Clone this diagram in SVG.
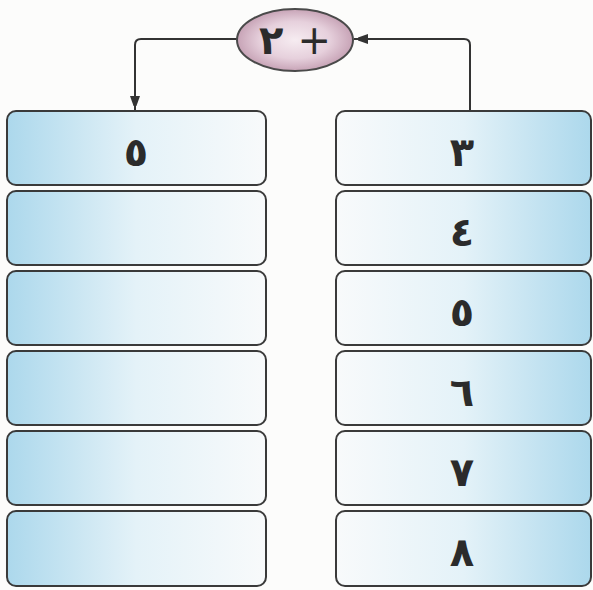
<svg xmlns="http://www.w3.org/2000/svg" width="593" height="590" viewBox="0 0 593 590">
<defs>
<linearGradient id="gL" x1="0" y1="0" x2="1" y2="0">
<stop offset="0" stop-color="#acd8ec"/>
<stop offset="0.5" stop-color="#e4f2f8"/>
<stop offset="1" stop-color="#f8fafb"/>
</linearGradient>
<linearGradient id="gR" x1="0" y1="0" x2="1" y2="0">
<stop offset="0" stop-color="#f8fafb"/>
<stop offset="0.5" stop-color="#e4f2f8"/>
<stop offset="1" stop-color="#acd8ec"/>
</linearGradient>
<radialGradient id="gE" cx="0.5" cy="0.5" r="0.5">
<stop offset="0" stop-color="#f6ecf1"/>
<stop offset="0.6" stop-color="#e6d0dc"/>
<stop offset="1" stop-color="#c7a3b6"/>
</radialGradient>
<marker id="arr" viewBox="0 0 10 14" refX="14" refY="7" markerWidth="10" markerHeight="14" markerUnits="userSpaceOnUse" orient="auto">
<path d="M0,2 L14,7 L0,12 Z" fill="#333"/>
</marker>
<style>
.box{stroke:#3a3a3a;stroke-width:2}
.l{fill:url(#gL)}
.r{fill:url(#gR)}
.num{font-family:"DejaVu Sans",sans-serif;font-weight:bold;font-size:40px;fill:#2b2b2b;text-anchor:middle}
.conn{fill:none;stroke:#333;stroke-width:2}
</style>
</defs>
<rect width="593" height="590" fill="#fcfcfb"/>
<g id="connectors">
<path class="conn" d="M237,39 H141 Q135,39 135,45 V110" marker-end="url(#arr)"/>
<path class="conn" d="M470,111 V45 Q470,39 464,39 H354" marker-end="url(#arr)"/>
</g>
<g id="op">
<ellipse cx="295" cy="40" rx="58" ry="31" fill="url(#gE)" stroke="#4a4a4a" stroke-width="2"/>
<text x="295" y="54" class="num" font-size="36">٢ <tspan font-weight="normal">+</tspan></text>
</g>
<g id="left1"><rect class="box l" x="7" y="111" width="259" height="74" rx="9"/><text class="num" x="136" y="166">٥</text></g>
<g id="left2"><rect class="box l" x="7" y="191" width="259" height="74" rx="9"/></g>
<g id="left3"><rect class="box l" x="7" y="271" width="259" height="74" rx="9"/></g>
<g id="left4"><rect class="box l" x="7" y="351" width="259" height="74" rx="9"/></g>
<g id="left5"><rect class="box l" x="7" y="431" width="259" height="74" rx="9"/></g>
<g id="left6"><rect class="box l" x="7" y="511" width="259" height="75" rx="9"/></g>
<g id="right1"><rect class="box r" x="336" y="111" width="255" height="74" rx="9"/><text class="num" x="462" y="166">٣</text></g>
<g id="right2"><rect class="box r" x="336" y="191" width="255" height="74" rx="9"/><text class="num" x="462" y="246">٤</text></g>
<g id="right3"><rect class="box r" x="336" y="271" width="255" height="74" rx="9"/><text class="num" x="462" y="326">٥</text></g>
<g id="right4"><rect class="box r" x="336" y="351" width="255" height="74" rx="9"/><text class="num" x="462" y="406">٦</text></g>
<g id="right5"><rect class="box r" x="336" y="431" width="255" height="74" rx="9"/><text class="num" x="462" y="486">٧</text></g>
<g id="right6"><rect class="box r" x="336" y="511" width="255" height="75" rx="9"/><text class="num" x="462" y="566">٨</text></g>
</svg>
